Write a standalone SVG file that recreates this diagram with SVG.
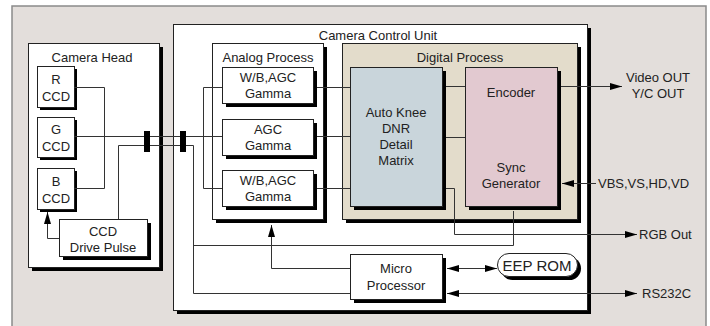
<svg xmlns="http://www.w3.org/2000/svg" width="710" height="326" viewBox="0 0 710 326">
<defs>
<style>
.t{font-family:"Liberation Sans",Arial,sans-serif;font-size:13px;fill:#222;text-anchor:middle}
.tl{font-family:"Liberation Sans",Arial,sans-serif;font-size:13px;fill:#222;text-anchor:start}
.box{fill:#fff;stroke:#222;stroke-width:1}
.sh{fill:#000}
.ln{fill:none;stroke:#333;stroke-width:1}
.bar{fill:#000}
</style>
<marker id="ah" viewBox="0 0 12 8" refX="12" refY="4" markerWidth="12" markerHeight="8" markerUnits="userSpaceOnUse" orient="auto-start-reverse">
<path d="M0,0.5 L12,4 L0,7.5 Z" fill="#000"/>
</marker>
</defs>
<rect x="12" y="6" width="694" height="330" fill="#e3dedb" stroke="#8a8a8a" stroke-width="1.5"/>

<g id="camera-head">
<rect class="sh" x="32" y="47" width="131" height="224"/>
<rect class="box" x="28.5" y="43.5" width="131" height="224"/>
<text class="t" x="92" y="62">Camera Head</text>
</g>
<g id="ccu">
<rect class="sh" x="177" y="28" width="414" height="286"/>
<rect class="box" x="173.5" y="24.5" width="414" height="286"/>
<text class="t" x="378" y="40">Camera Control Unit</text>
</g>
<g id="r-ccd">
<rect class="sh" x="40" y="69" width="37" height="41"/>
<rect class="box" x="37.5" y="66.5" width="37" height="41"/>
<text class="t" x="56" y="84">R</text><text class="t" x="56" y="101">CCD</text>
</g>
<g id="g-ccd">
<rect class="sh" x="40" y="120" width="37" height="40"/>
<rect class="box" x="37.5" y="117.5" width="37" height="40"/>
<text class="t" x="56" y="134">G</text><text class="t" x="56" y="151">CCD</text>
</g>
<g id="b-ccd">
<rect class="sh" x="40" y="171" width="37" height="41"/>
<rect class="box" x="37.5" y="168.5" width="37" height="41"/>
<text class="t" x="56" y="186">B</text><text class="t" x="56" y="203">CCD</text>
</g>
<g id="ccd-drive-pulse">
<rect class="sh" x="63" y="223" width="88" height="37"/>
<rect class="box" x="59.5" y="219.5" width="88" height="37"/>
<text class="t" x="103" y="236">CCD</text><text class="t" x="103" y="252">Drive Pulse</text>
</g>
<g id="analog-process">
<rect class="sh" x="216" y="47" width="111" height="176"/>
<rect class="box" x="212.5" y="43.5" width="111" height="176"/>
<text class="t" x="268" y="62">Analog Process</text>
</g>
<g id="wb-agc-1">
<rect class="sh" x="226" y="71" width="91" height="36"/>
<rect class="box" x="222.5" y="67.5" width="91" height="36"/>
<text class="t" x="268" y="82">W/B,AGC</text><text class="t" x="268" y="98">Gamma</text>
</g>
<g id="agc-gamma">
<rect class="sh" x="226" y="123" width="91" height="36"/>
<rect class="box" x="222.5" y="119.5" width="91" height="36"/>
<text class="t" x="268" y="134">AGC</text><text class="t" x="268" y="150">Gamma</text>
</g>
<g id="wb-agc-2">
<rect class="sh" x="226" y="174" width="91" height="36"/>
<rect class="box" x="222.5" y="170.5" width="91" height="36"/>
<text class="t" x="268" y="185">W/B,AGC</text><text class="t" x="268" y="201">Gamma</text>
</g>
<g id="digital-process">
<rect class="sh" x="346" y="47" width="235" height="176"/>
<rect x="342.5" y="43.5" width="235" height="176" fill="#e3dccb" stroke="#222"/>
<text class="t" x="460" y="62">Digital Process</text>
</g>
<g id="auto-knee">
<rect class="sh" x="354" y="71" width="92" height="139"/>
<rect x="350.5" y="67.5" width="92" height="139" fill="#c9d5db" stroke="#222"/>
<text class="t" x="396" y="117">Auto Knee</text>
<text class="t" x="396" y="133">DNR</text>
<text class="t" x="396" y="149">Detail</text>
<text class="t" x="396" y="165">Matrix</text>
</g>
<g id="encoder-sync">
<rect class="sh" x="469" y="71" width="92" height="139"/>
<rect x="465.5" y="67.5" width="92" height="139" fill="#e2c9d0" stroke="#222"/>
<text class="t" x="511" y="97">Encoder</text>
<text class="t" x="511" y="172">Sync</text>
<text class="t" x="511" y="188">Generator</text>
</g>
<g id="micro-processor">
<rect class="sh" x="354" y="258" width="92" height="45"/>
<rect class="box" x="350.5" y="254.5" width="92" height="45"/>
<text class="t" x="396" y="273">Micro</text><text class="t" x="396" y="290">Processor</text>
</g>
<g id="eep-rom">
<rect class="sh" x="501" y="257" width="80" height="23" rx="11.5"/>
<rect class="box" x="497.5" y="253.5" width="80" height="23" rx="11.5"/>
<text class="t" x="537" y="271" style="font-size:15px">EEP ROM</text>
</g>

<g id="connectors">
<path class="ln" d="M74,87.5H104.5V188.5H74"/>
<path class="ln" d="M74,136.5H222"/>
<path class="ln" d="M222,87.5H203.5V188.5H222"/>
<path class="ln" d="M118.5,219V145.5H193.5V293.5H350"/>
<path class="ln" d="M193.5,245.5H513.5V211"/>
<path class="ln" d="M59,238.5H47.5V212" marker-end="url(#ah)"/>
<path class="ln" d="M317,87.5H350M317,136.5H350M317,188.5H350"/>
<path class="ln" d="M446,86.5H465M446,137.5H465"/>
<path class="ln" d="M561,86.5H622" marker-end="url(#ah)"/>
<path class="ln" d="M596,183.5H562" marker-end="url(#ah)"/>
<path class="ln" d="M446,188.5H454.5V234.5H637" marker-end="url(#ah)"/>
<path class="ln" d="M350,268.5H271.5V225" marker-end="url(#ah)"/>
<path class="ln" d="M447,268.5H497" marker-start="url(#ah)" marker-end="url(#ah)"/>
<path class="ln" d="M447,293.5H637" marker-start="url(#ah)" marker-end="url(#ah)"/>
<rect class="bar" x="144" y="131" width="6" height="21"/>
<rect class="bar" x="180" y="131" width="6" height="21"/>
</g>

<text class="t" x="658" y="82">Video OUT</text>
<text class="t" x="658" y="98">Y/C OUT</text>
<text class="tl" x="598" y="188">VBS,VS,HD,VD</text>
<text class="tl" x="639" y="239">RGB Out</text>
<text class="tl" x="642" y="298">RS232C</text>
</svg>
